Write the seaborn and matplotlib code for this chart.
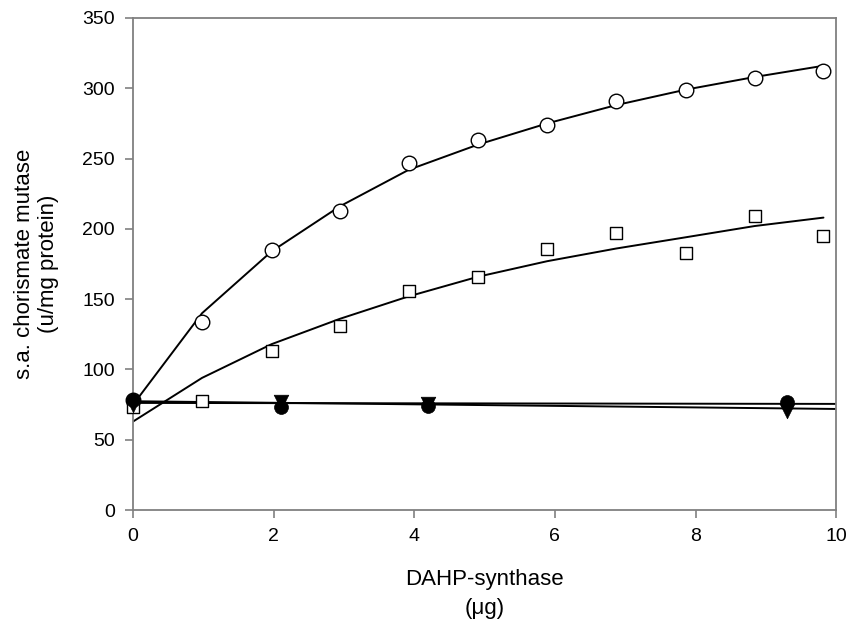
import matplotlib
matplotlib.use("Agg")
import matplotlib.pyplot as plt
import seaborn as sns
import pandas as pd

# ---- data ----
x_open = [0, 0.98, 1.97, 2.94, 3.92, 4.91, 5.89, 6.87, 7.86, 8.84, 9.82]
circle_open = [78, 134, 185, 213, 247, 263, 274, 291, 299, 307, 312]
square_open = [73, 77.4, 113, 131, 156, 166, 186, 197, 183, 209, 195]
circle_fit = [75, 140, 184, 216, 242, 260, 275, 288, 299, 308, 316]
square_fit = [63, 94, 118, 136, 152, 166, 177, 186, 194, 202, 208]

x_filled = [0, 2.1, 4.2, 9.3]
circle_filled = [78, 73.5, 74, 76.6]
triangle_filled = [74.5, 77, 75.5, 70.7]

x_flat = [0, 10]
circle_filled_fit = [76.2, 75.5]
triangle_filled_fit = [77.4, 71.9]

x_ticks = [0, 2, 4, 6, 8, 10]
y_ticks = [0, 50, 100, 150, 200, 250, 300, 350]

sns.set_style("ticks")
plt.rcParams["font.family"] = ["Liberation Sans", "DejaVu Sans"]
plt.rcParams["text.color"] = "black"
plt.rcParams["axes.labelcolor"] = "black"

fig = plt.figure(figsize=(8.48, 6.19), dpi=100)
ax = fig.add_axes([0.157, 0.176, 0.829, 0.795])

line_kw = dict(color="black", linewidth=1.4, legend=False, ax=ax, sort=False)
sns.lineplot(x=x_open, y=circle_fit, **line_kw)
sns.lineplot(x=x_open, y=square_fit, **line_kw)
sns.lineplot(x=x_flat, y=circle_filled_fit, **line_kw)
sns.lineplot(x=x_flat, y=triangle_filled_fit, **line_kw)

sns.scatterplot(x=x_open, y=circle_open, marker="o", s=110, facecolor="white",
                edgecolor="black", linewidth=1.0, ax=ax, clip_on=False, zorder=3)
sns.scatterplot(x=x_open, y=square_open, marker="s", s=75, facecolor="white",
                edgecolor="black", linewidth=1.0, ax=ax, clip_on=False, zorder=3)
sns.scatterplot(x=x_filled, y=triangle_filled, marker="v", s=110, color="black",
                edgecolor="black", linewidth=0.5, ax=ax, clip_on=False, zorder=4)
sns.scatterplot(x=x_filled, y=circle_filled, marker="o", s=100, color="black",
                edgecolor="black", linewidth=0.5, ax=ax, clip_on=False, zorder=5)

ax.set_xlim(0, 10)
ax.set_ylim(0, 350)
ax.set_xticks(x_ticks)
ax.set_yticks(y_ticks)
ax.set_xticklabels([str(t) for t in x_ticks])
ax.set_yticklabels([str(t) for t in y_ticks])

for sp in ax.spines.values():
    sp.set_visible(True)
    sp.set_color("#808080")
    sp.set_linewidth(1.3)

ax.tick_params(axis="both", which="major", direction="out", length=6,
               width=1.2, color="#808080", labelsize=14, pad=7,
               top=False, right=False, labelcolor="black")

ax.set_xlabel("DAHP-synthase\n(\u03bcg)", fontsize=16, labelpad=17, linespacing=1.5)
ax.set_ylabel("s.a. chorismate mutase\n(u/mg protein)", fontsize=16, labelpad=17, linespacing=1.2)

fig.savefig("out.png", dpi=100)
